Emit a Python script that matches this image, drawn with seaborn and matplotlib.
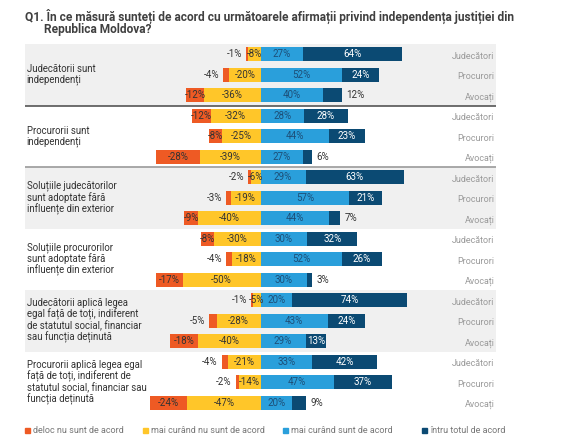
import numpy as np
import pandas as pd
import matplotlib.pyplot as plt
import seaborn as sns
from matplotlib.patches import Rectangle

plt.switch_backend("Agg")

# --- date ---
groups = [
    "Judecătorii sunt\nindependenți",
    "Procurorii sunt\nindependenți",
    "Soluțiile judecătorilor\nsunt adoptate fără\ninfluențe din exterior",
    "Soluțiile procurorilor\nsunt adoptate fără\ninfluențe din exterior",
    "Judecătorii aplică legea\negal față de toți, indiferent\nde statutul social, financiar\nsau funcția deținută",
    "Procurorii aplică legea egal\nfață de toți, indiferent de\nstatutul social, financiar sau\nfuncția deținută",
]
respondents = ["Judecători", "Procurori", "Avocați"]
answers = ["deloc nu sunt de acord", "mai curând nu sunt de acord",
           "mai curând sunt de acord", "întru totul de acord"]

deloc = [1, 4, 12, 12, 8, 28, 2, 3, 9, 8, 4, 17, 1, 5, 18, 4, 2, 24]
mai_nu = [8, 20, 36, 32, 25, 39, 6, 19, 40, 30, 18, 50, 5, 28, 40, 21, 14, 47]
mai_da = [27, 52, 40, 28, 44, 27, 29, 57, 44, 30, 52, 30, 20, 43, 29, 33, 47, 20]
total = [64, 24, 12, 28, 23, 6, 63, 21, 7, 32, 26, 3, 74, 24, 13, 42, 37, 9]

colors = ["#EE5A24", "#FFC629", "#2A9FDB", "#0B4A73"]

n = len(deloc)
rows = [f"r{i}" for i in range(n)]
df = pd.DataFrame({
    "row": rows,
    "resp": respondents * len(groups),
    "deloc": deloc, "mai_nu": mai_nu, "mai_da": mai_da, "total": total,
})
# capetele cumulate, barele se suprapun
df["neg_out"] = -(df["deloc"] + df["mai_nu"])
df["neg_in"] = -df["mai_nu"]
df["pos_in"] = df["mai_da"]
df["pos_out"] = df["mai_da"] + df["total"]

sns.set_style("white")
plt.rcParams["font.family"] = ["Roboto", "DejaVu Sans"]

fig = plt.figure(figsize=(5.77, 4.41), dpi=100)
ax = fig.add_axes([25 / 577, 28 / 441, 471 / 577, 369 / 441])

# fundal alternant
for g in range(len(groups)):
    if g % 2 == 0:
        ax.axhspan(3 * g - 0.5, 3 * g + 2.5, color="#F0F0F0", zorder=0, lw=0)

bar_kw = dict(y="row", orient="h", order=rows, errorbar=None, width=0.68,
              saturation=1, linewidth=0, ax=ax, zorder=2)
sns.barplot(data=df, x="neg_out", color=colors[0], **bar_kw)
sns.barplot(data=df, x="neg_in", color=colors[1], **bar_kw)
sns.barplot(data=df, x="pos_out", color=colors[3], **bar_kw)
sns.barplot(data=df, x="pos_in", color=colors[2], **bar_kw)

ax.axhline(2.5, color="#555555", lw=1.2, zorder=3)
ax.axhline(5.5, color="#9a9a9a", lw=1.2, zorder=3)

ax.set_xlim(-151, 151)
ax.set_ylim(n - 0.5, -0.5)
ax.set(xticks=[], yticks=[], xlabel="", ylabel="")
sns.despine(ax=ax, left=True, bottom=True)

fs = 7
for i, r in df.iterrows():
    d, nu, da, t = r["deloc"], r["mai_nu"], r["mai_da"], r["total"]
    # deloc
    if d <= 5:
        ax.text(-(nu + d) - 2.5, i, f"-{d}%", ha="right", va="center",
                fontsize=fs, color="#333333", zorder=4)
    else:
        ax.text(-nu - d / 2, i, f"-{d}%", ha="center", va="center",
                fontsize=fs, color="#333333", zorder=4)
    ax.text(-nu / 2, i, f"-{nu}%", ha="center", va="center",
            fontsize=fs, color="#333333", zorder=4)
    ax.text(da / 2, i, f"{da}%", ha="center", va="center",
            fontsize=fs, color="#1d4f78", zorder=4)
    if t < 13:
        ax.text(da + t + 3, i, f"{t}%", ha="left", va="center",
                fontsize=fs, color="#333333", zorder=4)
    else:
        ax.text(da + t / 2, i, f"{t}%", ha="center", va="center",
                fontsize=fs, color="white", zorder=4)
    ax.text(150, i + 0.1, r["resp"], ha="right", va="center",
            fontsize=6.5, color="#9a9a9a", zorder=4)

for g, label in enumerate(groups):
    ax.text(-150, 3 * g + 1, label, ha="left", va="center", fontsize=6.9,
            color="#333333", linespacing=1.06, zorder=4)

# titlu
fig.text(25 / 577, 1 - 16 / 441,
         "Q1. În ce măsură sunteți de acord cu următoarele afirmații privind independența justiției din",
         ha="left", va="center", fontsize=8.6, fontweight="bold", color="#404040")
fig.text(44 / 577, 1 - 29.5 / 441, "Republica Moldova?",
         ha="left", va="center", fontsize=8.6, fontweight="bold", color="#404040")

# legenda
leg_x = [25, 143, 283, 422]
for x, lab, c in zip(leg_x, answers, colors):
    fig.patches.append(Rectangle((x / 577, 1 - 433 / 441), 5 / 577, 5 / 441,
                                 transform=fig.transFigure, color=c))
    fig.text((x + 8) / 577, 1 - 430.5 / 441, lab, ha="left", va="center",
             fontsize=6.5, color="#777777")

fig.savefig("out.png", dpi=100)
